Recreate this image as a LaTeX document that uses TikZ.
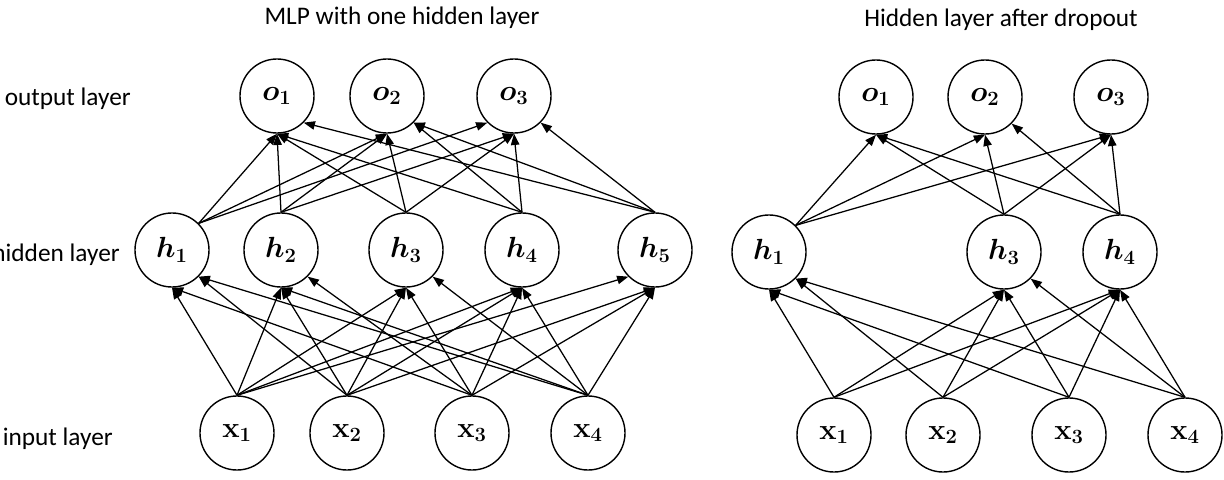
\documentclass[tikz,border=0pt]{standalone}
\usepackage{amsmath,bm}
\usepackage[no-math]{fontspec}
\setmainfont{Carlito}
\usetikzlibrary{arrows.meta}

\tikzset{
  neuron/.style={circle, draw, line width=1pt, minimum size=1.85cm, inner sep=0pt, font=\fontsize{20}{24}\selectfont},
  conn/.style={-{Triangle[length=8pt,width=6pt]}, line width=0.9pt},
  lbl/.style={font=\fontsize{18}{22}\selectfont, inner sep=0pt}
}

\begin{document}
\begin{tikzpicture}[x=0.025cm, y=-0.025cm]

    % page size (1 unit = one pixel of the reference)
    \useasboundingbox (0,0) rectangle (1224,480);

    % Titles and layer names
    \node[lbl] (title_mlp) at (402,18) {MLP with one hidden layer};
    \node[lbl] (title_drop) at (1001,20) {Hidden layer after dropout};
    \node[lbl, anchor=east] (lbl_output) at (131,99) {output layer};
    \node[lbl, anchor=east] (lbl_hidden) at (120,255) {hidden layer};
    \node[lbl, anchor=east] (lbl_input) at (113,439) {input layer};

    % MLP: output layer
    \node[neuron] (o1) at (277,96) {$\bm{o}_{\bm{1}}$};
    \node[neuron] (o2) at (387,96) {$\bm{o}_{\bm{2}}$};
    \node[neuron] (o3) at (514,96) {$\bm{o}_{\bm{3}}$};

    % MLP: hidden layer
    \node[neuron] (h1) at (172,250) {$\bm{h}_{\bm{1}}$};
    \node[neuron] (h2) at (281,250) {$\bm{h}_{\bm{2}}$};
    \node[neuron] (h3) at (406,250) {$\bm{h}_{\bm{3}}$};
    \node[neuron] (h4) at (522,250) {$\bm{h}_{\bm{4}}$};
    \node[neuron] (h5) at (655,250) {$\bm{h}_{\bm{5}}$};

    % MLP: input layer
    \node[neuron] (x1) at (237,433) {$\mathbf{x}_{\mathbf{1}}$};
    \node[neuron] (x2) at (347,433) {$\mathbf{x}_{\mathbf{2}}$};
    \node[neuron] (x3) at (472,433) {$\mathbf{x}_{\mathbf{3}}$};
    \node[neuron] (x4) at (588,433) {$\mathbf{x}_{\mathbf{4}}$};

    % Dropout: output layer
    \node[neuron] (d_o1) at (876,97) {$\bm{o}_{\bm{1}}$};
    \node[neuron] (d_o2) at (985,97) {$\bm{o}_{\bm{2}}$};
    \node[neuron] (d_o3) at (1111,97) {$\bm{o}_{\bm{3}}$};

    % Dropout: hidden units that are kept
    \node[neuron] (d_h1) at (769,252) {$\bm{h}_{\bm{1}}$};
    \node[neuron] (d_h3) at (1004,252) {$\bm{h}_{\bm{3}}$};
    \node[neuron] (d_h4) at (1120,252) {$\bm{h}_{\bm{4}}$};

    % Dropout: input layer
    \node[neuron] (d_x1) at (834,435) {$\mathbf{x}_{\mathbf{1}}$};
    \node[neuron] (d_x2) at (943,435) {$\mathbf{x}_{\mathbf{2}}$};
    \node[neuron] (d_x3) at (1069,435) {$\mathbf{x}_{\mathbf{3}}$};
    \node[neuron] (d_x4) at (1185,435) {$\mathbf{x}_{\mathbf{4}}$};

    % MLP: hidden -> output
    \foreach \src/\sa/\dst/\da in {
        h1/north east/o1/south, h1/north east/o2/south, h1/north east/o3/south west,
        h2/north/o1/south, h2/north/o2/south, h2/north/o3/south,
        h3/north/o1/south, h3/north/o2/south, h3/north/o3/south,
        h4/north/o1/south, h4/north/o2/south east, h4/north/o3/south,
        h5/north/o1/south east, h5/north/o2/south east, h5/north/o3/south east}
        \draw[conn] (\src.\sa) -- (\dst.\da);

    % MLP: input -> hidden
    \foreach \src/\dst/\da in {
        x1/h1/south, x2/h1/south east, x3/h1/south, x4/h1/south east,
        x1/h2/south, x2/h2/south, x3/h2/south east, x4/h2/south,
        x1/h3/south, x2/h3/south, x3/h3/south, x4/h3/south east,
        x1/h4/south, x2/h4/south, x3/h4/south, x4/h4/south,
        x1/h5/south west, x2/h5/south, x3/h5/south, x4/h5/south}
        \draw[conn] (\src.north) -- (\dst.\da);

    % Dropout: hidden -> output
    \foreach \src/\sa/\dst/\da in {
        d_h1/north east/d_o1/south, d_h1/north east/d_o2/south, d_h1/north east/d_o3/south,
        d_h3/north/d_o1/south, d_h3/north/d_o2/south, d_h3/north/d_o3/south,
        d_h4/north/d_o1/south, d_h4/north/d_o2/south east, d_h4/north/d_o3/south}
        \draw[conn] (\src.\sa) -- (\dst.\da);

    % Dropout: input -> hidden
    \foreach \src/\dst/\da in {
        d_x1/d_h1/south, d_x2/d_h1/south east, d_x3/d_h1/south, d_x4/d_h1/south east,
        d_x1/d_h3/south, d_x2/d_h3/south, d_x3/d_h3/south, d_x4/d_h3/south east,
        d_x1/d_h4/south, d_x2/d_h4/south, d_x3/d_h4/south, d_x4/d_h4/south}
        \draw[conn] (\src.north) -- (\dst.\da);

\end{tikzpicture}
\end{document}
